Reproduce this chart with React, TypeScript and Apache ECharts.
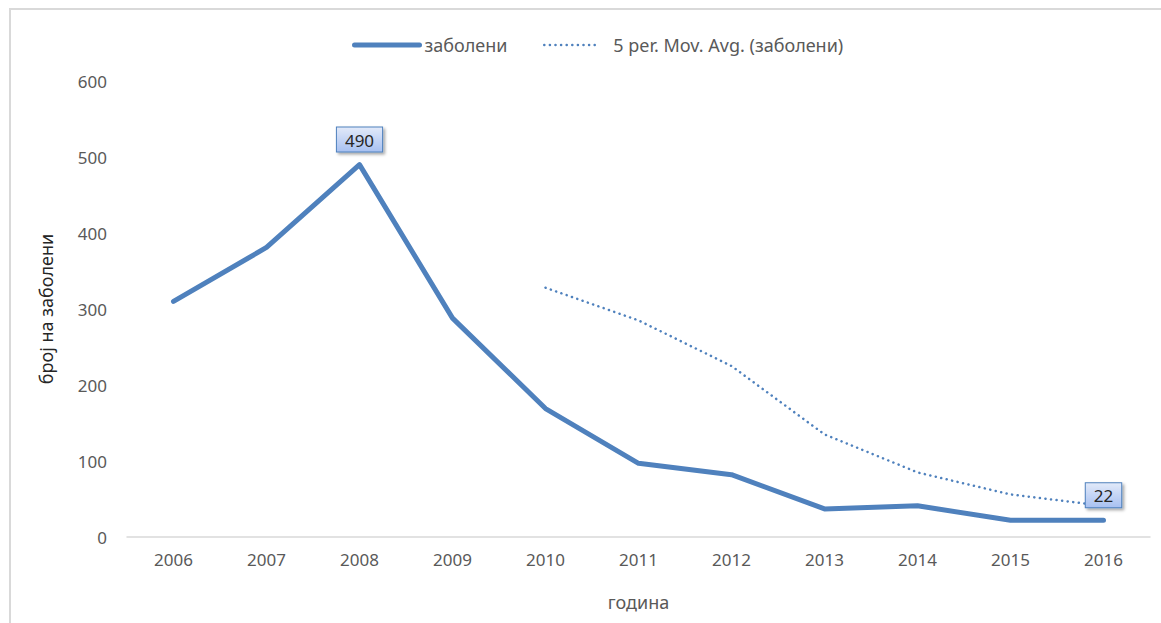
import React, { useEffect, useRef } from "react";
import * as echarts from "echarts";

const years = ["2006", "2007", "2008", "2009", "2010", "2011", "2012", "2013", "2014", "2015", "2016"];
const cases = [310, 381, 490, 288, 169, 97, 82, 37, 41, 22, 22];
const movingAvg: (number | null)[] = [null, null, null, null, 328, 285, 225, 135, 85, 56, 41];
const labeledYears = ["2008", "2016"];
const seriesNames = ["заболени", "5 per. Mov. Avg. (заболени)"];
const yAxisTitle = "број на заболени";
const xAxisTitle = "година";

const BLUE = "#4f81bd";
const TEXT = "#595959";
const FONT = "'Noto Sans', sans-serif";

export default function App() {
  const ref = useRef<HTMLDivElement>(null);
  useEffect(() => {
    if (!ref.current) return;
    const chart = echarts.init(ref.current, undefined, { renderer: "svg" });
    const labelStyle = {
      show: true,
      position: "top",
      distance: 12,
      opacity: 1,
      fontSize: 17,
      fontFamily: FONT,
      color: "#262626",
      padding: [4, 8, 3, 8],
      borderColor: BLUE,
      borderWidth: 1,
      backgroundColor: new echarts.graphic.LinearGradient(0, 0, 0, 1, [
        { offset: 0, color: "#e1e9f9" },
        { offset: 1, color: "#a8c1f1" },
      ]),
      shadowColor: "rgba(0,0,0,0.35)",
      shadowBlur: 3,
      shadowOffsetX: 2,
      shadowOffsetY: 2,
    };
    const mainData = cases.map((v, i) =>
      labeledYears.includes(years[i]) ? { value: v, label: labelStyle } : { value: v }
    );
    const legendText = { fontSize: 18, color: TEXT, fontFamily: FONT };
    const dotted = { width: 2.5, color: BLUE, type: [0.1, 5.5], cap: "round" };
    chart.setOption({
      animation: false,
      backgroundColor: "#ffffff",
      textStyle: { fontFamily: FONT },
      graphic: [
        {
          type: "rect",
          shape: { x: 10, y: 9, width: 1300, height: 800 },
          style: { fill: "none", stroke: "#d9d9d9", lineWidth: 2 },
          silent: true,
        },
      ],
      legend: [
        {
          left: 347,
          top: 31,
          itemWidth: 65,
          itemHeight: 20,
          itemStyle: { opacity: 0 },
          lineStyle: { width: 5, color: BLUE, cap: "round" },
          textStyle: legendText,
          data: [seriesNames[0]],
        },
        {
          left: 538,
          top: 31,
          itemWidth: 52,
          itemHeight: 20,
          itemStyle: { opacity: 0 },
          lineStyle: dotted,
          textStyle: { ...legendText, padding: [0, 0, 0, 12] },
          data: [seriesNames[1]],
        },
      ],
      grid: { left: 127, right: 11, top: 81, bottom: 86 },
      xAxis: {
        type: "category",
        data: years,
        boundaryGap: true,
        axisLine: { lineStyle: { color: "#d9d9d9", width: 1.5 } },
        axisTick: { show: false },
        axisLabel: { color: TEXT, fontSize: 17, margin: 14, fontFamily: FONT },
        name: xAxisTitle,
        nameLocation: "middle",
        nameGap: 56,
        nameTextStyle: { color: TEXT, fontSize: 18, fontFamily: FONT },
      },
      yAxis: {
        type: "value",
        min: 0,
        max: 600,
        interval: 100,
        axisLine: { show: false },
        axisTick: { show: false },
        splitLine: { show: false },
        axisLabel: { color: TEXT, fontSize: 17, margin: 20, fontFamily: FONT },
        name: yAxisTitle,
        nameLocation: "middle",
        nameGap: 72,
        nameTextStyle: { color: "#262626", fontSize: 18, fontFamily: FONT },
      },
      series: [
        {
          name: seriesNames[0],
          type: "line",
          data: mainData,
          symbol: "circle",
          symbolSize: 2,
          showSymbol: true,
          lineStyle: { color: BLUE, width: 5, cap: "round", join: "round" },
          itemStyle: { color: BLUE },
          z: 3,
        },
        {
          name: seriesNames[1],
          type: "line",
          data: movingAvg.map((v) => (v === null ? "-" : v)),
          symbol: "none",
          lineStyle: dotted,
          itemStyle: { color: BLUE },
          z: 2,
        },
      ],
    });
    return () => chart.dispose();
  }, []);
  return (
    <div
      ref={ref}
      style={{ position: "fixed", left: 0, top: 0, width: 1161, height: 623 }}
    />
  );
}
